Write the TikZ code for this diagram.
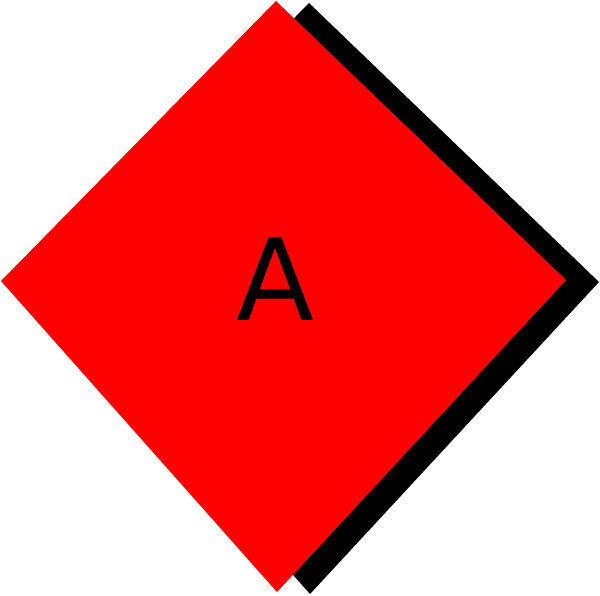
\documentclass[tikz,border=0pt]{standalone}
\usepackage{fontspec}
\setmainfont{DejaVu Sans}

\begin{document}
\begin{tikzpicture}[x=1pt,y=1pt,yscale=-1,xscale=1]
\useasboundingbox (0,0) rectangle (600,595);

%Shape: Diamond shadow
\fill [color={rgb, 255:red, 0; green, 0; blue, 0 }] (309,3) -- (599,282) -- (310,594) -- (34,283) -- cycle ;
%Shape: Diamond
\fill [color={rgb, 255:red, 255; green, 0; blue, 0 }] (276,1) -- (566,280) -- (277,592) -- (1,281) -- cycle ;

% Text Node
\node (lblA) at (275,279) [inner sep=0pt] [font=\fontsize{114}{114}\selectfont] {A};

\end{tikzpicture}
\end{document}
